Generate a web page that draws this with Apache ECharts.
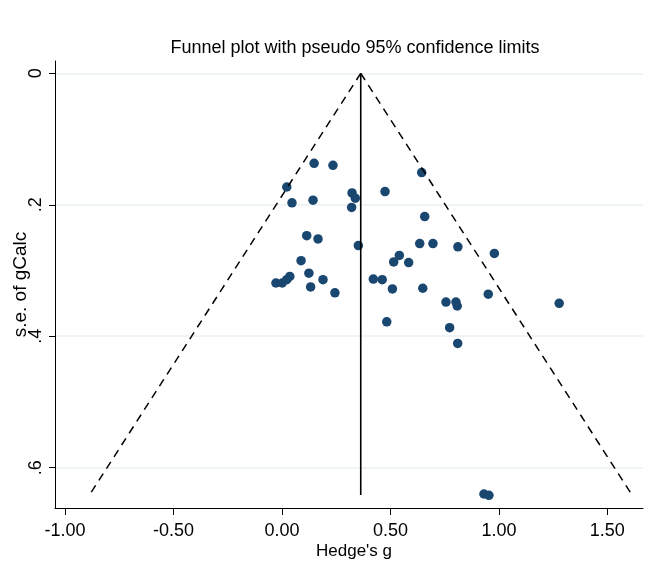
<!DOCTYPE html>
<html>
<head>
<meta charset="utf-8">
<script src="https://cdn.jsdelivr.net/npm/echarts@6/dist/echarts.min.js"></script>
<style>
html,body{margin:0;padding:0;background:#fff;}
#chart{width:649px;height:583px;}
</style>
</head>
<body>
<div id="chart"></div>
<script>
// Study points: Hedge's g and its standard error
const hedgesG = [0.148,0.235,0.022,0.046,0.143,0.323,0.338,0.321,0.475,0.644,0.658,0.114,0.166,0.352,0.635,0.696,0.811,0.979,0.541,0.515,0.584,0.088,0.124,-0.028,0.001,0.022,0.036,0.132,0.189,0.244,0.421,0.462,0.509,0.649,0.756,0.802,0.808,0.951,1.278,0.483,0.773,0.810,0.931,0.954];
const seG = [0.137,0.140,0.173,0.197,0.193,0.182,0.190,0.204,0.180,0.151,0.218,0.247,0.252,0.262,0.259,0.259,0.264,0.274,0.277,0.287,0.288,0.285,0.304,0.319,0.319,0.314,0.309,0.325,0.314,0.334,0.313,0.314,0.328,0.327,0.348,0.348,0.354,0.336,0.350,0.378,0.387,0.411,0.640,0.642];

// Pseudo 95% confidence limit lines and pooled estimate line
const funnelLeftX = [0.363, -0.888];
const funnelRightX = [0.363, 1.614];
const funnelY = [0, 0.6416];
const pooledX = [0.363, 0.363];
const pooledY = [0, 0.6416];

// Axis ticks
const xTicks = [-1, -0.5, 0, 0.5, 1, 1.5];
const xTickLabels = ['-1.00', '-0.50', '0.00', '0.50', '1.00', '1.50'];
const yTicks = [0, 0.2, 0.4, 0.6];
const yTickLabels = ['0', '.2', '.4', '.6'];

const pairs = (xs, ys) => xs.map((x, i) => [x, ys[i]]);
const FONT = '"Liberation Sans", Arial, sans-serif';

const chart = echarts.init(document.getElementById('chart'), null, {renderer: 'canvas'});
chart.setOption({
  animation: false,
  backgroundColor: '#ffffff',
  title: {
    text: 'Funnel plot with pseudo 95% confidence limits',
    left: 350, top: 34, textAlign: 'center',
    textStyle: {fontFamily: FONT, fontSize: 18, fontWeight: 'normal', color: '#000'}
  },
  grid: {left: 55, right: 6, top: 61, bottom: 75, containLabel: false, outerBoundsMode: 'none'},
  xAxis: {
    type: 'value',
    min: -1.0466, max: 1.6644,
    name: "Hedge's g",
    nameLocation: 'middle',
    nameGap: 35,
    nameMoveOverlap: false,
    nameTextStyle: {fontFamily: FONT, fontSize: 17, color: '#000', padding: [0, 0, 0, 10]},
    axisLine: {show: true, onZero: false, lineStyle: {color: '#000', width: 1}},
    axisTick: {show: true, length: 7, customValues: xTicks, lineStyle: {color: '#000'}},
    axisLabel: {
      show: true, margin: 14, customValues: xTicks,
      fontFamily: FONT, fontSize: 18, color: '#000',
      formatter: v => { const i = xTicks.findIndex(t => Math.abs(t - v) < 1e-9); return i >= 0 ? xTickLabels[i] : ''; }
    },
    splitLine: {show: false}
  },
  yAxis: {
    type: 'value',
    inverse: true,
    min: -0.0187, max: 0.6613,
    name: 's.e. of gCalc',
    nameLocation: 'middle',
    nameGap: 25,
    nameMoveOverlap: false,
    nameTextStyle: {fontFamily: FONT, fontSize: 19, color: '#000'},
    axisLine: {show: true, onZero: false, lineStyle: {color: '#000', width: 1}},
    axisTick: {show: true, length: 6, customValues: yTicks, lineStyle: {color: '#000'}},
    axisLabel: {
      show: true, margin: 10, rotate: 90, customValues: yTicks,
      fontFamily: FONT, fontSize: 18, color: '#000',
      formatter: v => { const i = yTicks.findIndex(t => Math.abs(t - v) < 1e-9); return i >= 0 ? yTickLabels[i] : ''; }
    },
    splitLine: {show: true, lineStyle: {color: '#eaf2f3', width: 1.5}}
  },
  series: [
    {
      type: 'line', data: pairs(funnelLeftX, funnelY), symbol: 'none', silent: true,
      lineStyle: {color: '#000', width: 1.5, type: [8, 6]}
    },
    {
      type: 'line', data: pairs(funnelRightX, funnelY), symbol: 'none', silent: true,
      lineStyle: {color: '#000', width: 1.5, type: [8, 6]}
    },
    {
      type: 'line', data: pairs(pooledX, pooledY), symbol: 'none', silent: true,
      lineStyle: {color: '#000', width: 1.6}
    },
    {
      type: 'scatter', data: pairs(hedgesG, seG), symbol: 'circle', symbolSize: 9.5,
      itemStyle: {color: '#1a476f', opacity: 1}
    }
  ]
});
</script>
</body>
</html>
